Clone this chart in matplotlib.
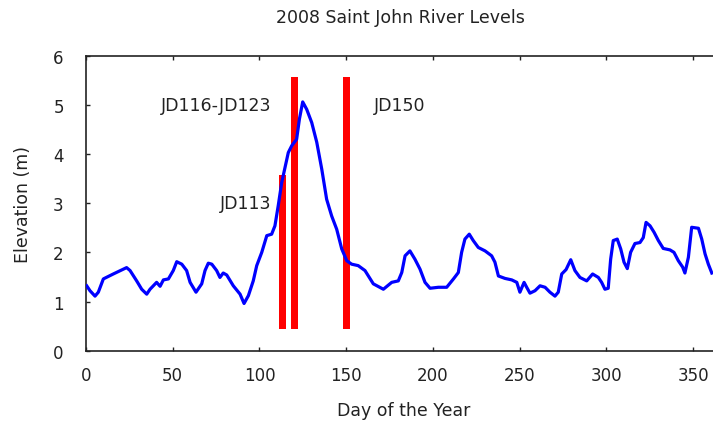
import matplotlib
matplotlib.use("Agg")
import matplotlib.pyplot as plt

# river level (day of year, metres)
days = [0.4, 2.3, 5.2, 7.1, 10, 15.7, 23.4, 25.4, 29.2, 32.1, 35, 36.9, 40.7, 42.7,
        44.6, 47.5, 50.3, 52.3, 55.2, 58, 60, 63.4, 66.7, 68.6, 70.5, 72.5, 75.3,
        77.2, 79.1, 81.1, 84.9, 88.8, 91.1, 93.6, 96.4, 98.4, 101.3, 104.2, 107,
        108.9, 110.8, 112.8, 114.7, 116.6, 118.6, 121.4, 123, 124.9, 127.2, 130.1,
        133, 135.9, 138.7, 141.6, 144.5, 147.4, 150.3, 153.1, 156.9, 160.8, 165.6,
        171.4, 176.2, 180, 182, 183.9, 186.7, 189.6, 192.5, 195.4, 198.3, 203.1,
        207.9, 211.8, 214.6, 216.5, 218.4, 220.9, 223.2, 226.1, 230, 233.8, 235.7,
        237.7, 241.5, 245.4, 248.3, 250.1, 252.5, 254, 255.9, 258.8, 261.7, 264.6,
        267.4, 270.3, 272.2, 274.2, 276.7, 279.4, 281.8, 284.7, 288.6, 292, 295.3,
        297.2, 299.1, 301, 302.4, 303.9, 306.2, 308.2, 310.1, 312, 313.9, 316.4,
        319.3, 321.2, 322.8, 325.1, 327.4, 329.9, 332.7, 336.6, 338.9, 341.4, 343.9,
        345.2, 347.2, 349.1, 353, 354.9, 356.8, 358.7, 360.7]
levels = [1.32, 1.22, 1.11, 1.19, 1.46, 1.56, 1.69, 1.63, 1.42, 1.25, 1.15, 1.25, 1.39,
          1.31, 1.44, 1.46, 1.63, 1.81, 1.76, 1.63, 1.39, 1.19, 1.36, 1.63, 1.78, 1.76,
          1.63, 1.49, 1.58, 1.54, 1.32, 1.15, 0.96, 1.12, 1.42, 1.73, 2.0, 2.34, 2.37,
          2.54, 2.95, 3.42, 3.73, 4.03, 4.17, 4.30, 4.71, 5.06, 4.91, 4.64, 4.24, 3.69,
          3.08, 2.74, 2.47, 2.07, 1.83, 1.76, 1.73, 1.63, 1.36, 1.25, 1.39, 1.42, 1.59,
          1.93, 2.03, 1.86, 1.66, 1.39, 1.27, 1.29, 1.29, 1.46, 1.59, 2.0, 2.27, 2.37,
          2.24, 2.10, 2.03, 1.93, 1.80, 1.52, 1.47, 1.44, 1.39, 1.19, 1.39, 1.29, 1.17,
          1.22, 1.32, 1.29, 1.19, 1.11, 1.19, 1.56, 1.65, 1.85, 1.63, 1.49, 1.42, 1.56,
          1.49, 1.39, 1.25, 1.27, 1.86, 2.24, 2.27, 2.07, 1.80, 1.67, 2.0, 2.18, 2.20,
          2.30, 2.61, 2.54, 2.41, 2.24, 2.08, 2.05, 2.0, 1.83, 1.70, 1.58, 1.90, 2.51,
          2.49, 2.27, 1.97, 1.76, 1.58]

# red markers for the sampled days
mark_days = [113, 120, 150]
mark_tops = [3.57, 5.57, 5.57]
mark_bottom = 0.45

labels = ["JD113", "JD116-JD123", "JD150"]
label_x = [107, 107, 166]
label_y = [3.0, 5.0, 5.0]
label_ha = ["right", "right", "left"]

x_ticks = [0, 50, 100, 150, 200, 250, 300, 350]
y_ticks = [0, 1, 2, 3, 4, 5, 6]

plt.rcParams["font.family"] = ["DejaVu Sans"]
plt.rcParams["font.size"] = 12

fig = plt.figure(figsize=(7.13, 4.27), dpi=100)
ax = fig.add_axes([86 / 713, 75.3 / 427, 635 / 713, 295 / 427])

ax.bar(mark_days, [t - mark_bottom for t in mark_tops], bottom=mark_bottom,
       width=4, color="#ff0000", zorder=2)
ax.plot(days, levels, color="#0000ff", linewidth=2.3, zorder=3)

for text, x, y, ha in zip(labels, label_x, label_y, label_ha):
    ax.text(x, y, text, ha=ha, va="center", color="#222222", fontsize=12.5)

ax.set_xlim(0, 366)
ax.set_ylim(0, 6)
ax.set_xticks(x_ticks)
ax.set_yticks(y_ticks)
ax.tick_params(direction="in", length=3, width=1, top=True, right=False,
               colors="#222222", labelsize=12)
ax.tick_params(axis="x", pad=11)
ax.tick_params(axis="y", pad=16)
for name in ("left", "bottom", "top"):
    ax.spines[name].set_linewidth(1.2)
    ax.spines[name].set_color("#222222")
ax.spines["right"].set_visible(False)

ax.set_xlabel("Day of the Year", labelpad=12, color="#222222", fontsize=12.5)
ax.set_ylabel("Elevation (m)", labelpad=15, color="#222222", fontsize=12.5)
fig.text(0.562, 0.958, "2008 Saint John River Levels", ha="center", va="center",
         color="#222222", fontsize=12.5)

fig.savefig("out.png", dpi=100)
